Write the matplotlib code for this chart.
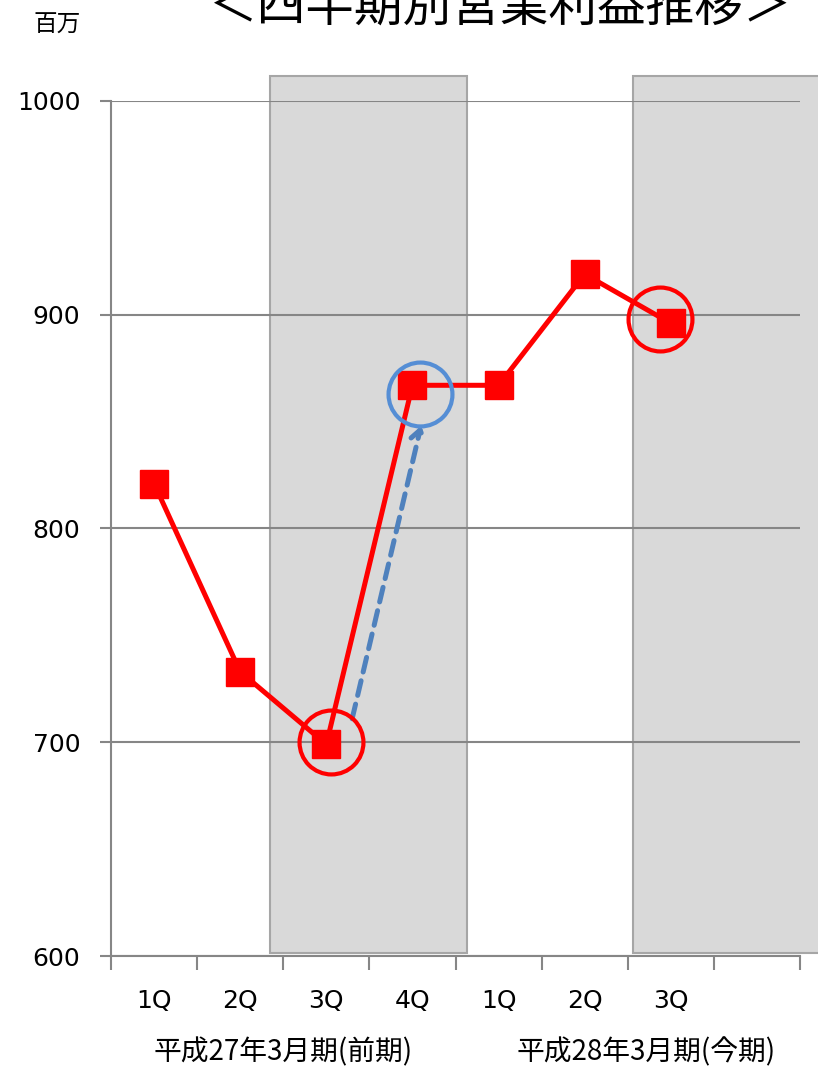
import matplotlib
matplotlib.use("Agg")
import matplotlib.pyplot as plt
from matplotlib.patches import Rectangle

plt.rcParams['font.family'] = ['DejaVu Sans', 'Noto Sans CJK JP']

# ---- data ----
quarters = ["1Q", "2Q", "3Q", "4Q", "1Q", "2Q", "3Q", ""]
profit = [821, 733, 699, 867, 867, 919, 896]
period_labels = ["平成27年3月期(前期)", "平成28年3月期(今期)"]
title = "＜四半期別営業利益推移＞"
unit = "百万"
yticks = [600, 700, 800, 900, 1000]
# highlight annotations (category position, value)
red_circle_x = [2.05, 5.88]
red_circle_y = [700, 898]
blue_circle_x = [3.09]
blue_circle_y = [863]
arrow_from = (2.30, 711)
arrow_to = (3.10, 848)
# shaded spans (category range, value range)
shade_spans = [(1.35, 3.63), (5.56, 7.9)]
shade_y = (601.4, 1011.7)

W, H = 818, 1066
fig = plt.figure(figsize=(W / 100, H / 100), dpi=100)
ax = fig.add_axes([111 / W, (H - 956) / H, (800 - 111) / W, (956 - 101) / H])

ax.set_xlim(-0.5, 7.5)
ax.set_ylim(600, 1000)

for x0, x1 in shade_spans:
    ax.add_patch(Rectangle((x0, shade_y[0]), x1 - x0, shade_y[1] - shade_y[0],
                           facecolor="#d9d9d9", edgecolor="#a6a6a6", lw=1.5,
                           clip_on=False, zorder=0.5))

ax.set_yticks(yticks)
ax.set_yticklabels([str(v) for v in yticks], fontsize=18)
ax.yaxis.grid(True, color="#868686", lw=1.5, zorder=1)
ax.set_axisbelow(False)
ax.tick_params(axis='y', length=8, width=1.5, color="#868686", pad=14)

ax.set_xticks([i - 0.5 for i in range(9)])
ax.set_xticklabels([])
ax.set_xticks(range(8), minor=True)
ax.set_xticklabels(quarters, minor=True, fontsize=18)
ax.tick_params(axis='x', which='major', length=10, width=1.5, color="#868686")
ax.tick_params(axis='x', which='minor', length=0, pad=24)

for s in ["top", "right"]:
    ax.spines[s].set_visible(False)
for s in ["left", "bottom"]:
    ax.spines[s].set_color("#868686")
    ax.spines[s].set_linewidth(1.5)

ax.plot(range(len(profit)), profit, color="#ff0000", lw=3.6, marker="s",
        markersize=20, zorder=4, clip_on=False)

ax.plot(red_circle_x, red_circle_y, linestyle="none", marker="o", markersize=46,
        markerfacecolor="none", markeredgecolor="#ff0000", markeredgewidth=3,
        zorder=5, clip_on=False)
ax.plot(blue_circle_x, blue_circle_y, linestyle="none", marker="o", markersize=46,
        markerfacecolor="none", markeredgecolor="#558ed5", markeredgewidth=3,
        zorder=5, clip_on=False)

ax.annotate("", xy=arrow_to, xytext=arrow_from,
            arrowprops=dict(arrowstyle="->,head_length=0.7,head_width=0.5",
                            color="#4f81bd", lw=3.6, linestyle=(0, (3, 1.8)),
                            shrinkA=0, shrinkB=0),
            zorder=3)

fig.text(501 / W, 1 - 7 / H, title, ha="center", va="center", fontsize=35,
         family=['Noto Sans CJK JP'])
fig.text(57 / W, 1 - 25 / H, unit, ha="center", va="center", fontsize=17,
         family=['Noto Sans CJK JP'])
fig.text(283 / W, 1 - 1052 / H, period_labels[0], ha="center", va="center",
         fontsize=20, family=['Noto Sans CJK JP'])
fig.text(646 / W, 1 - 1052 / H, period_labels[1], ha="center", va="center",
         fontsize=20, family=['Noto Sans CJK JP'])

fig.savefig("out.png", dpi=100)
